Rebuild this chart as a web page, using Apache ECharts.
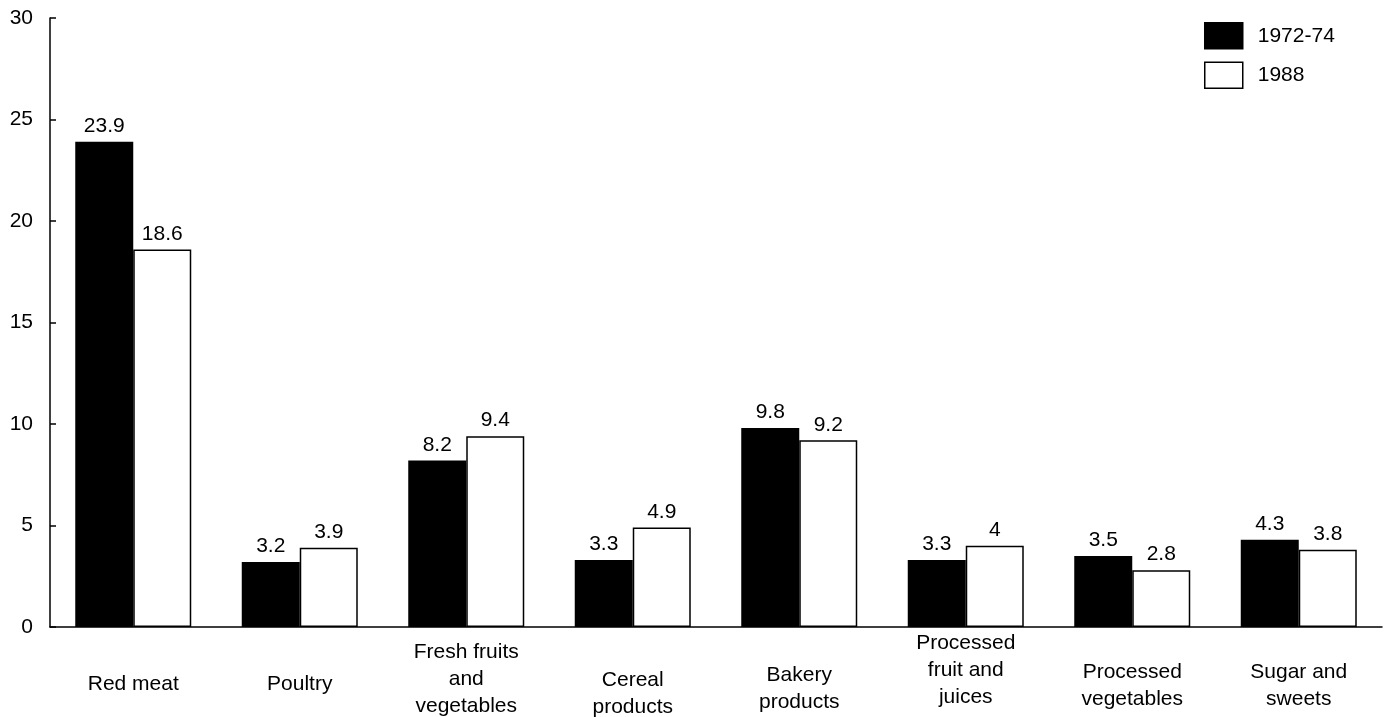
<!DOCTYPE html>
<html>
<head>
<meta charset="utf-8">
<title>Food spending shares</title>
<script src="https://cdn.jsdelivr.net/npm/echarts@6/dist/echarts.min.js"></script>
<style>
  html, body { margin: 0; padding: 0; background: #fff; overflow: hidden; }
  #chart { width: 1384px; height: 717px; }
</style>
</head>
<body>
<div id="chart"></div>
<script>
// Categories and values for the two periods
const categories = [
  'Red meat',
  'Poultry',
  'Fresh fruits\nand\nvegetables',
  'Cereal\nproducts',
  'Bakery\nproducts',
  'Processed\nfruit and\njuices',
  'Processed\nvegetables',
  'Sugar and\nsweets'
];
const values1972 = [23.9, 3.2, 8.2, 3.3, 9.8, 3.3, 3.5, 4.3];
const values1988 = [18.6, 3.9, 9.4, 4.9, 9.2, 4, 2.8, 3.8];
const yTicks = { min: 0, max: 30, interval: 5 };

// distance (px) from the x axis line down to the top of each category label
const labelDrop = [44, 44, 12, 40, 35, 3, 32, 32];

const font = '"Liberation Sans", Arial, Helvetica, sans-serif';
const fontSize = 21;
const chart = echarts.init(document.getElementById('chart'));

const labelStyle = {
  show: true,
  position: 'top',
  distance: 5,
  color: '#000',
  fontFamily: font,
  fontSize: fontSize
};

const categoryItems = categories.map((name, i) => ({
  value: name,
  textStyle: {
    verticalAlign: 'top',
    align: 'center',
    padding: [labelDrop[i], 0, 0, 0]
  }
}));

chart.setOption({
  animation: false,
  backgroundColor: '#fff',
  textStyle: { fontFamily: font, color: '#000' },
  legend: {
    orient: 'vertical',
    left: 1204,
    top: 22,
    padding: 0,
    itemWidth: 38,
    itemHeight: 26,
    itemGap: 12,
    icon: 'rect',
    textStyle: { fontFamily: font, fontSize: fontSize, color: '#000', padding: [0, 0, 0, 10] },
    data: [
      { name: '1972-74', itemStyle: { color: '#000', borderColor: '#000', borderWidth: 1.5 } },
      { name: '1988', itemStyle: { color: '#fff', borderColor: '#000', borderWidth: 1.5 } }
    ]
  },
  grid: { left: 50, right: 2, top: 18, bottom: 90, containLabel: false, outerBoundsMode: 'none' },
  xAxis: {
    type: 'category',
    data: categoryItems,
    axisLine: { show: true, lineStyle: { color: '#000', width: 1.5 } },
    axisTick: { show: false },
    axisLabel: {
      color: '#000',
      fontFamily: font,
      fontSize: fontSize,
      lineHeight: 27,
      verticalAlign: 'top',
      margin: 0,
      interval: 0
    }
  },
  yAxis: {
    type: 'value',
    min: yTicks.min,
    max: yTicks.max,
    interval: yTicks.interval,
    splitLine: { show: false },
    axisLine: { show: true, lineStyle: { color: '#000', width: 1.5 } },
    axisTick: { show: true, inside: true, length: 6, lineStyle: { color: '#000', width: 1.5 } },
    axisLabel: { color: '#000', fontFamily: font, fontSize: fontSize, margin: 17 }
  },
  series: [
    {
      name: '1972-74',
      type: 'bar',
      data: values1972,
      barWidth: 58,
      barGap: '0%',
      itemStyle: { color: '#000', borderColor: '#000', borderWidth: 1.5 },
      label: labelStyle
    },
    {
      name: '1988',
      type: 'bar',
      data: values1988,
      barWidth: 58,
      barGap: '0%',
      itemStyle: { color: '#fff', borderColor: '#000', borderWidth: 1.5 },
      label: labelStyle
    }
  ]
});
</script>
</body>
</html>
